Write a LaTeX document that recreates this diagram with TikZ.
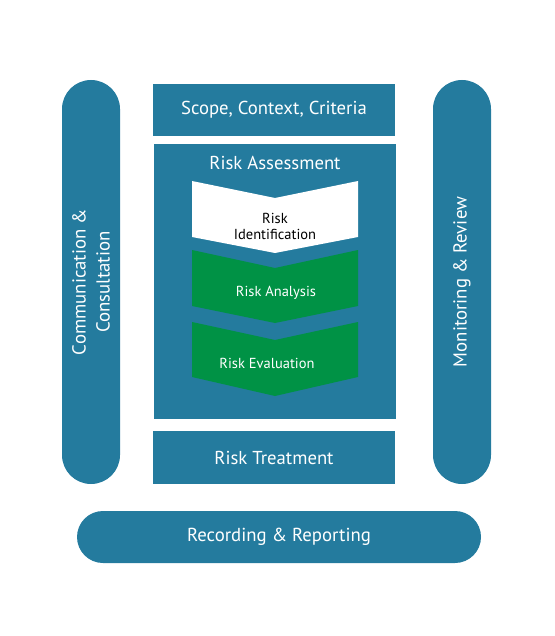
\documentclass[tikz,border=0pt]{standalone}
\usepackage{fontspec}
\setmainfont{PT Sans}
\definecolor{riskblue}{RGB}{36,123,158}
\definecolor{riskgreen}{RGB}{0,146,69}
\begin{document}
\begin{tikzpicture}[
  x = 1pt, y = -1pt,
  box/.style = {fill = riskblue, text = white, inner sep = 0pt, font = \fontsize{18.7}{22}\selectfont},
  pill/.style = {box, rounded corners = 29pt, align = center, font = \fontsize{18.8}{24}\selectfont},
  stage/.style = {inner sep = 0pt, align = center, font = \fontsize{14.5}{16}\selectfont}
  ]
  \useasboundingbox (0,0) rectangle (554,636);

  %side bars
  \node[pill, minimum width = 404pt, minimum height = 58pt, rotate = 90] (comm) at (91,282)
    {Communication \&\\Consultation};
  \node[pill, minimum width = 404pt, minimum height = 58pt, rotate = 90] (monitor) at (462,282)
    {Monitoring \& Review};

  %main column
  \node[box, minimum width = 242pt, minimum height = 52pt] (scope) at (274,110) {Scope, Context, Criteria};
  \node[box, minimum width = 242pt, minimum height = 275pt] (assess) at (275,281.5) {};
  \node[box, yshift = -19pt] (assesstitle) at (assess.north) {Risk Assessment};
  \node[box, minimum width = 242pt, minimum height = 53pt] (treat) at (274,457.5) {Risk Treatment};

  %bottom bar
  \node[pill, rounded corners = 26pt, minimum width = 404pt, minimum height = 52pt] (record) at (279,537)
    {Recording \& Reporting};

  %chevrons
  \fill[white] (192,181) -- (275,198) -- (358,181) -- (358,237) -- (275,253) -- (192,237) -- cycle;
  \fill[riskgreen] (192,250) -- (275,268) -- (358,250) -- (358,306) -- (275,323) -- (192,306) -- cycle;
  \fill[riskgreen] (192,322) -- (275,340) -- (358,322) -- (358,377) -- (275,396) -- (192,377) -- cycle;
  \node[stage, text = black] (ident) at (275,226) {Risk\\Identification};
  \node[stage, text = white] (analysis) at (276,293) {Risk Analysis};
  \node[stage, text = white] (evaluation) at (267,363) {Risk Evaluation};
\end{tikzpicture}
\end{document}
